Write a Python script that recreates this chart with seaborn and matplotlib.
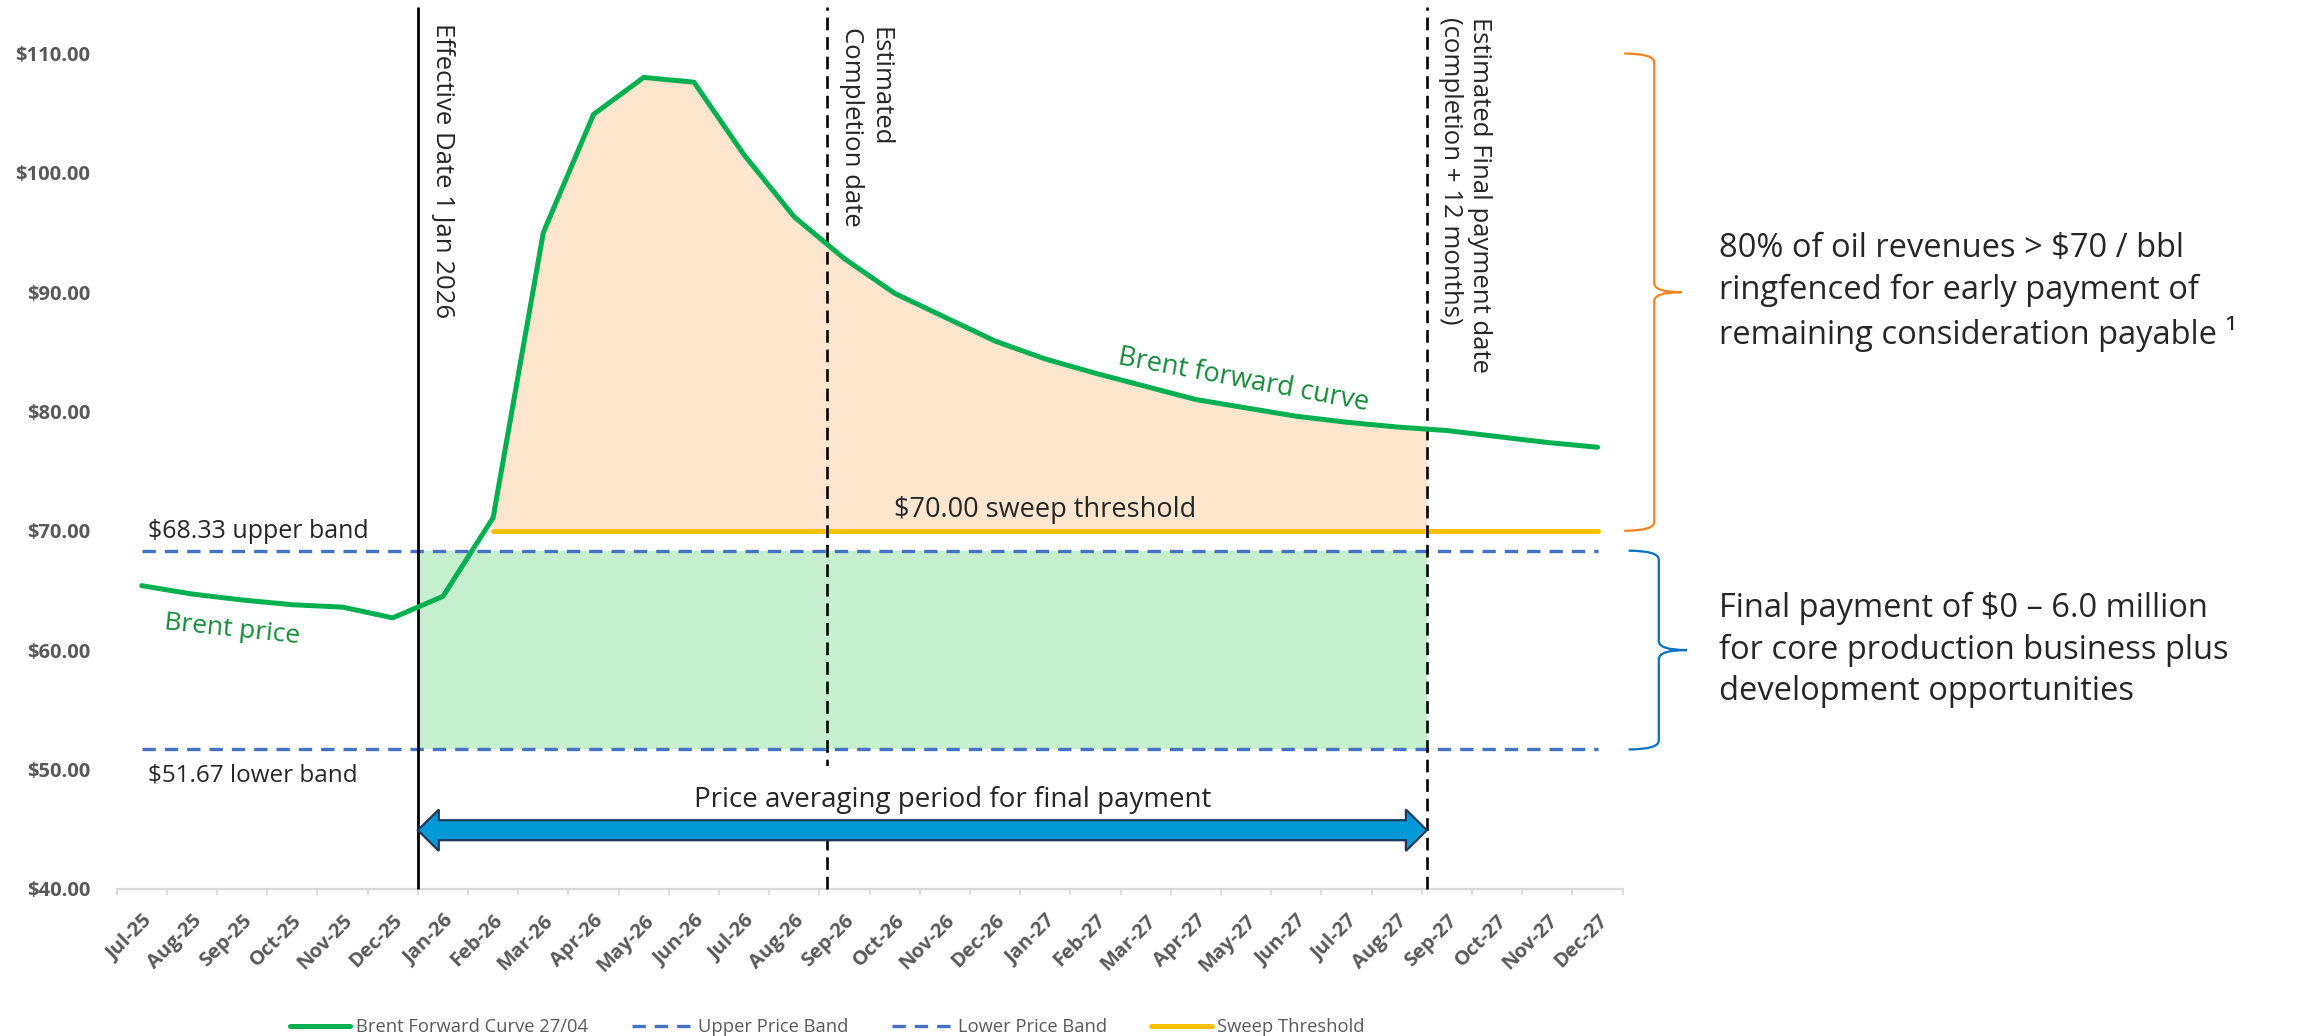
import numpy as np
import seaborn as sns
import matplotlib.pyplot as plt
import matplotlib.transforms as mtransforms
from matplotlib.lines import Line2D
from matplotlib.patches import PathPatch, Polygon
from matplotlib.path import Path

# ---- data ----
months = ["Jul-25", "Aug-25", "Sep-25", "Oct-25", "Nov-25", "Dec-25",
          "Jan-26", "Feb-26", "Mar-26", "Apr-26", "May-26", "Jun-26",
          "Jul-26", "Aug-26", "Sep-26", "Oct-26", "Nov-26", "Dec-26",
          "Jan-27", "Feb-27", "Mar-27", "Apr-27", "May-27", "Jun-27",
          "Jul-27", "Aug-27", "Sep-27", "Oct-27", "Nov-27", "Dec-27"]
brent = [65.4, 64.7, 64.2, 63.8, 63.6, 62.7,
         64.5, 71.1, 95.0, 104.9, 108.0, 107.6,
         101.5, 96.3, 92.8, 89.9, 87.9, 85.9,
         84.4, 83.2, 82.1, 81.0, 80.3, 79.6,
         79.1, 78.7, 78.4, 77.9, 77.4, 77.0]
upper_band = 68.33
lower_band = 51.67
sweep_threshold = 70.0
sweep_start = "Feb-26"
y_ticks = [40, 50, 60, 70, 80, 90, 100, 110]

# event markers, in month-index units
effective_pos = 5.5     # 1 Jan 2026
completion_pos = 13.65  # estimated completion
final_pos = 25.6        # completion + 12 months
arrow_level = 44.9

GREEN = "#00B050"
GREEN_TXT = "#16893A"
BLUE = "#4472C4"
YELLOW = "#FFC000"
GREY = "#595959"

sns.set_theme(style="white")
plt.rcParams["font.family"] = ["Open Sans", "DejaVu Sans"]

fig = plt.figure(figsize=(23, 10.36), dpi=100)
ax = fig.add_axes([0.0507, 0.1422, 0.6548, 0.8061])

n = len(months)
x = np.arange(n)
i0 = months.index(sweep_start)

# shaded regions
ax.fill_between([effective_pos, final_pos], lower_band, upper_band,
                color="#C6EFCE", lw=0, zorder=1)
k = int(final_pos)
xs = np.r_[x[i0:k + 1], final_pos]
ys = np.r_[brent[i0:k + 1], np.interp(final_pos, x, brent)]
ax.fill_between(xs, sweep_threshold, ys, color="#FDE5CE", lw=0, zorder=1)

# series
band_dash = (0, (4, 2.7))
sns.lineplot(x=x, y=[upper_band] * n, color=BLUE, lw=2.4, linestyle=band_dash, ax=ax, zorder=3)
sns.lineplot(x=x, y=[lower_band] * n, color=BLUE, lw=2.4, linestyle=band_dash, ax=ax, zorder=3)
sns.lineplot(x=x[i0:], y=[sweep_threshold] * (n - i0), color=YELLOW, lw=3.6, ax=ax, zorder=3)
sns.lineplot(x=x, y=brent, color=GREEN, lw=3.6, ax=ax, zorder=5,
             solid_capstyle="round", solid_joinstyle="round")

ax.set_xlim(-0.5, n - 0.5)
ax.set_ylim(40, 110)
top_line = 113.9

# event lines
ax.vlines(effective_pos, 40, top_line, colors="black", lw=2, clip_on=False, zorder=4)
ax.vlines([completion_pos, final_pos], 40, top_line, colors="black", lw=1.9,
          linestyles=[(0, (4.8, 2.6))], clip_on=False, zorder=4)

# axes styling
sns.despine(ax=ax, left=True)
ax.spines["bottom"].set_color("#D9D9D9")
ax.spines["bottom"].set_linewidth(1.6)
ax.set_yticks(y_ticks)
ax.set_yticklabels([f"${v:.2f}" for v in y_ticks], fontsize=14.5,
                   fontweight="bold", color=GREY)
ax.tick_params(axis="y", length=0, pad=19)
ax.set_xticks(x)
ax.set_xticklabels(months, rotation=45, ha="right", va="center",
                   rotation_mode="anchor", fontsize=14.5, fontweight="bold", color=GREY)
ax.set_xticks(np.arange(-0.5, n), minor=True)
ax.tick_params(axis="x", which="major", length=0, pad=21)
ax.tick_params(axis="x", which="minor", bottom=True, length=4.5, width=1.3,
               color="#D9D9D9", direction="out")
shift = mtransforms.ScaledTranslation(5 / 72, 0, fig.dpi_scale_trans)
for lab in ax.get_xticklabels():
    lab.set_transform(lab.get_transform() + shift)
ax.grid(False)

# text annotations
ax.text(0.12, 68.85, "$68.33 upper band", ha="left", va="bottom", fontsize=18)
ax.text(0.12, 50.5, "$51.67 lower band", ha="left", va="top", fontsize=17.5)
ax.text(18.0, 70.55, "$70.00 sweep threshold", ha="center", va="bottom", fontsize=19.5)
ax.text(16.15, 46.3, "Price averaging period for final payment", ha="center",
        va="bottom", fontsize=20, zorder=5,
        bbox=dict(boxstyle="square,pad=0.7", fc="white", ec="none"))
ax.text(1.8, 61.7, "Brent price", rotation=-6, rotation_mode="anchor",
        ha="center", va="center", fontsize=19, color=GREEN_TXT)
ax.text(21.95, 82.6, "Brent forward curve", rotation=-10.5, rotation_mode="anchor",
        ha="center", va="center", fontsize=19.5, color=GREEN_TXT)

vtxt = dict(rotation=-90, ha="left", va="top", fontsize=18.5, linespacing=1.17,
            clip_on=False, multialignment="left")
ax.text(5.75, 112.6, "Effective Date 1 Jan 2026", **vtxt)
ax.text(13.89, 112.2, "Estimated\nCompletion date", **vtxt)
ax.text(25.83, 113.1, "Estimated Final payment date\n(completion + 12 months)", **vtxt)

# double-headed block arrow for the averaging window
ax_px = ax.get_window_extent()
py = ax_px.height / (110 - 40)
px = ax_px.width / n
hs, hh, hl = 10 / py, 20.7 / py, 21 / px
l, r, yc = effective_pos, final_pos, arrow_level
arrow = Polygon([(l, yc), (l + hl, yc + hh), (l + hl, yc + hs), (r - hl, yc + hs),
                 (r - hl, yc + hh), (r, yc), (r - hl, yc - hh), (r - hl, yc - hs),
                 (l + hl, yc - hs), (l + hl, yc - hh)], closed=True,
                fc="#0099D8", ec="#1B3A5C", lw=1.6, joinstyle="miter", zorder=6)
ax.add_patch(arrow)


def draw_brace(ax, y_lo, y_hi, x_end, x_spine, x_tip, color):
    trans = mtransforms.blended_transform_factory(ax.transAxes, ax.transData)
    rr = 9 / py
    y_mid = (y_lo + y_hi) / 2
    verts = [(x_end, y_hi), (x_spine, y_hi), (x_spine, y_hi - rr),
             (x_spine, y_mid + rr), (x_spine, y_mid), (x_tip, y_mid),
             (x_spine, y_mid), (x_spine, y_mid - rr),
             (x_spine, y_lo + rr), (x_spine, y_lo), (x_end, y_lo)]
    codes = [Path.MOVETO, Path.CURVE3, Path.CURVE3, Path.LINETO, Path.CURVE3,
             Path.CURVE3, Path.CURVE3, Path.CURVE3, Path.LINETO, Path.CURVE3, Path.CURVE3]
    ax.add_patch(PathPatch(Path(verts, codes), fc="none", ec=color, lw=1.6,
                           transform=trans, clip_on=False))


draw_brace(ax, sweep_threshold, 110, 1.001, 1.021, 1.039, "#F58220")
draw_brace(ax, lower_band, upper_band, 1.004, 1.024, 1.0425, "#0070C0")

side = mtransforms.blended_transform_factory(ax.transAxes, ax.transData)
ax.text(1.064, (sweep_threshold + 110) / 2,
        "80% of oil revenues > $70 / bbl\nringfenced for early payment of\n"
        "remaining consideration payable \u00b9",
        transform=side, ha="left", va="center", fontsize=23.5, linespacing=1.33)
ax.text(1.064, (lower_band + upper_band) / 2,
        "Final payment of $0 \u2013 6.0 million\nfor core production business plus\n"
        "development opportunities",
        transform=side, ha="left", va="center", fontsize=23.5, linespacing=1.33)

# legend
handles = [Line2D([], [], color=GREEN, lw=3.6),
           Line2D([], [], color=BLUE, lw=2.4, linestyle=band_dash),
           Line2D([], [], color=BLUE, lw=2.4, linestyle=band_dash),
           Line2D([], [], color=YELLOW, lw=3.6)]
labels = ["Brent Forward Curve 27/04", "Upper Price Band", "Lower Price Band",
          "Sweep Threshold"]
fig.legend(handles, labels, loc="center", bbox_to_anchor=(0.3596, 0.0087), ncol=4,
           frameon=False, fontsize=13.2, handlelength=3.3, handletextpad=0.3,
           columnspacing=2.4, labelcolor=GREY)

fig.savefig("out.png", dpi=100)
